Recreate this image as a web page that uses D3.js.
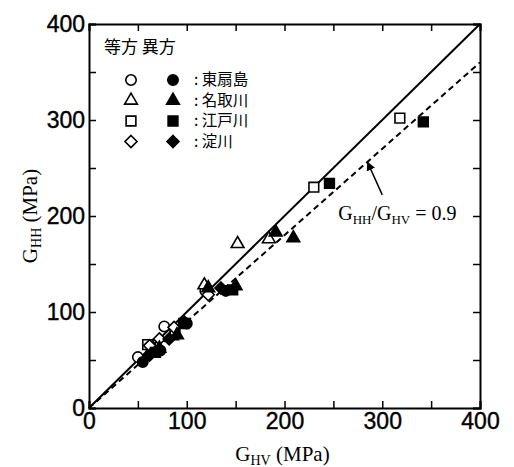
<!DOCTYPE html>
<html>
<head>
<meta charset="utf-8">
<script src="https://cdn.jsdelivr.net/npm/d3@7"></script>
<style>
  body { margin: 0; background: #fff; }
  .axis text { font-family: "Liberation Sans", Arial, sans-serif; font-size: 23px; stroke: #000; stroke-width: 0.4px; }
  .serif { font-family: "Liberation Serif", "Times New Roman", serif; }
  .jp { font-family: "Noto Sans CJK JP", sans-serif; }
</style>
</head>
<body>
<div id="chart"></div>
<script>
// ticks
const majorTicks = [0, 100, 200, 300, 400];
const minorTicks = [0, 50, 100, 150, 200, 250, 300, 350, 400];

// sites (legend labels)
const sites = ["東扇島", "名取川", "江戸川", "淀川"];
const shapes = ["circle", "triangle", "square", "diamond"];

// [G_HV, G_HH] pairs, isotropic (open) and anisotropic (filled)
const higashiOpen   = [[50, 53], [77, 85], [119, 122]];
const higashiFilled = [[55, 48], [73, 60], [100, 88], [140, 122]];
const natoriOpen    = [[65, 63], [85, 75], [118, 128], [152, 171], [184, 176]];
const natoriFilled  = [[72, 62], [90, 76], [122, 125], [150, 127], [191, 183], [209, 177]];
const edoOpen       = [[60, 66], [88, 80], [230, 230], [318, 302]];
const edoFilled     = [[68, 58], [97, 88], [147, 123], [246, 234], [342, 298]];
const yodoOpen      = [[62, 65], [72, 72], [87, 84], [122, 118]];
const yodoFilled    = [[62, 55], [82, 72], [97, 90], [135, 125]];

const ratioLine = 0.9;

const fullWidth = 514, fullHeight = 467;
const margin = { top: 24, right: 34, bottom: 59, left: 89 };
const width = fullWidth - margin.left - margin.right;
const height = fullHeight - margin.top - margin.bottom;

const svg = d3.select("#chart").append("svg")
  .attr("width", fullWidth).attr("height", fullHeight)
  .append("g")
  .attr("transform", `translate(${margin.left},${margin.top})`);

const x = d3.scaleLinear().domain([0, 400]).range([0, width]);
const y = d3.scaleLinear().domain([0, 400]).range([height, 0]);

// frame with inward ticks on all sides
const tick = 7;
svg.append("g").attr("class", "axis")
  .attr("transform", `translate(0,${height})`)
  .call(d3.axisBottom(x).tickValues(minorTicks).tickSize(-tick).tickPadding(5)
    .tickFormat(d => majorTicks.includes(d) ? d : ""));
svg.append("g").attr("class", "axis")
  .call(d3.axisLeft(y).tickValues(minorTicks).tickSize(-tick).tickPadding(4)
    .tickFormat(d => majorTicks.includes(d) ? d : ""));
svg.append("g").attr("class", "axis")
  .call(d3.axisTop(x).tickValues(minorTicks).tickSize(-tick).tickFormat(""));
svg.append("g").attr("class", "axis")
  .attr("transform", `translate(${width},0)`)
  .call(d3.axisRight(y).tickValues(minorTicks).tickSize(-tick).tickFormat(""));
svg.selectAll(".axis path").attr("stroke-width", 2);
svg.selectAll(".axis line").attr("stroke-width", 1.5);
svg.selectAll(".axis .tick text").attr("fill", "#000");

// reference lines
svg.append("line")
  .attr("x1", x(0)).attr("y1", y(0)).attr("x2", x(400)).attr("y2", y(400))
  .attr("stroke", "#000").attr("stroke-width", 2);
svg.append("line")
  .attr("x1", x(0)).attr("y1", y(0)).attr("x2", x(400)).attr("y2", y(400 * ratioLine))
  .attr("stroke", "#000").attr("stroke-width", 2).attr("stroke-dasharray", "6,4");

// symbols
const symType = {
  circle: d3.symbolCircle, triangle: d3.symbolTriangle, square: d3.symbolSquare
};
const symSize = { circle: 85, triangle: 70, square: 95 };
const sym = s => s === "diamond"
  ? "M0,-6L6,0L0,6L-6,0Z"
  : d3.symbol().type(symType[s]).size(symSize[s])();

const groups = [
  { data: higashiOpen, shape: "circle", filled: false },
  { data: natoriOpen, shape: "triangle", filled: false },
  { data: edoOpen, shape: "square", filled: false },
  { data: yodoOpen, shape: "diamond", filled: false },
  { data: higashiFilled, shape: "circle", filled: true },
  { data: natoriFilled, shape: "triangle", filled: true },
  { data: edoFilled, shape: "square", filled: true },
  { data: yodoFilled, shape: "diamond", filled: true }
];

groups.forEach(g => {
  svg.append("g").selectAll("path")
    .data(g.data)
    .enter().append("path")
    .attr("d", sym(g.shape))
    .attr("transform", d => `translate(${x(d[0])},${y(d[1])})`)
    .attr("fill", g.filled ? "#000" : "#fff")
    .attr("stroke", "#000").attr("stroke-width", 1.6);
});

// legend
const legend = svg.append("g").attr("transform", "translate(15,27)");
legend.append("text").attr("class", "jp").attr("x", 0).attr("y", 2)
  .attr("font-size", 17).text("等方 異方");
sites.forEach((s, i) => {
  const row = legend.append("g").attr("transform", `translate(0,${29 + i * 20.5})`);
  row.append("path").attr("d", sym(shapes[i])).attr("transform", "translate(27,0)")
    .attr("fill", "#fff").attr("stroke", "#000").attr("stroke-width", 1.6);
  row.append("path").attr("d", sym(shapes[i])).attr("transform", "translate(69,0)")
    .attr("fill", "#000").attr("stroke", "#000").attr("stroke-width", 1.6);
  row.append("text").attr("class", "jp").attr("x", 90).attr("y", 5)
    .attr("font-size", 15.5).text(": " + s);
});

// annotation with arrow
svg.append("defs").append("marker")
  .attr("id", "arr").attr("viewBox", "0 0 10 10").attr("refX", 9).attr("refY", 5)
  .attr("markerWidth", 6).attr("markerHeight", 6).attr("orient", "auto")
  .append("path").attr("d", "M0,0L10,5L0,10z").attr("fill", "#000");
svg.append("line")
  .attr("x1", x(300)).attr("y1", y(222)).attr("x2", x(285)).attr("y2", y(256))
  .attr("stroke", "#000").attr("stroke-width", 1.5).attr("marker-end", "url(#arr)");
const ann = svg.append("text").attr("class", "serif")
  .attr("x", x(255)).attr("y", y(196)).attr("font-size", 20);
ann.append("tspan").text("G");
ann.append("tspan").attr("font-size", 13).attr("dy", 4).text("HH");
ann.append("tspan").attr("dy", -4).text("/G");
ann.append("tspan").attr("font-size", 13).attr("dy", 4).text("HV");
ann.append("tspan").attr("dy", -4).text(" = 0.9");

// axis titles
const xt = svg.append("text").attr("class", "serif")
  .attr("x", width / 2 - 2).attr("y", height + 53)
  .attr("text-anchor", "middle").attr("font-size", 21);
xt.append("tspan").text("G");
xt.append("tspan").attr("font-size", 14).attr("dy", 4).text("HV");
xt.append("tspan").attr("dy", -4).text(" (MPa)");

const yt = svg.append("text").attr("class", "serif")
  .attr("transform", `translate(${-52},${height / 2}) rotate(-90)`)
  .attr("text-anchor", "middle").attr("font-size", 21);
yt.append("tspan").text("G");
yt.append("tspan").attr("font-size", 14).attr("dy", 4).text("HH");
yt.append("tspan").attr("dy", -4).text(" (MPa)");
</script>
</body>
</html>
